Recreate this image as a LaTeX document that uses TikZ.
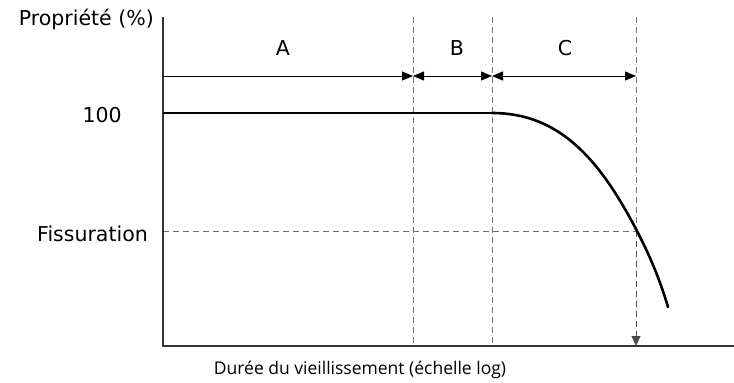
\documentclass[tikz,border=0pt]{standalone}
\usepackage{fontspec}
\setmainfont{Open Sans}
\newfontfamily\leftfont{DejaVu Sans}
\usetikzlibrary{arrows.meta}
\begin{document}
\begin{tikzpicture}[x=1pt,y=-1pt,
  axis/.style={line width=1.2pt,black!80},
  guide/.style={line width=0.9pt,black!55,dash pattern=on 6pt off 4pt},
  dim/.style={line width=0.9pt,black,-{Triangle[length=11pt,width=9pt]}},
  dimb/.style={line width=0.9pt,black,{Triangle[length=11pt,width=9pt]}-{Triangle[length=11pt,width=9pt]}},
  lbl/.style={font=\fontsize{17.5pt}{20pt}\selectfont,inner sep=0pt},
  llbl/.style={font=\leftfont\fontsize{20.5pt}{23pt}\selectfont,inner sep=0pt}]
\useasboundingbox (0,0) rectangle (734,383);
% coordinates
\coordinate (O) at (163,346);
\coordinate (Ytop) at (163,17);
\coordinate (Xend) at (734,346);
\coordinate (d1t) at (413,17); \coordinate (d1b) at (413,346);
\coordinate (d2t) at (492,17); \coordinate (d2b) at (492,346);
\coordinate (d3t) at (636,17); \coordinate (d3b) at (636,346);
\coordinate (a0) at (163,76); \coordinate (a1) at (413,76);
\coordinate (a2) at (492,76); \coordinate (a3) at (636,76);
\coordinate (h0) at (163,113); \coordinate (h1) at (492,113);
\coordinate (f0) at (163,231); \coordinate (f1) at (636,231);
% guides
\draw[guide] (d1t) -- (d1b);
\draw[guide] (d2t) -- (d2b);
\draw[guide] (d3t) -- (f1);
\draw[guide] (f0) -- (f1);
\draw[guide,-{Triangle[length=10pt,width=9pt]},black!70] (f1) -- (d3b);
% axes
\draw[axis] (Ytop) -- (O) -- (Xend);
% dimension arrows
\draw[dim] (a0) -- (a1);
\draw[dimb] (a1) -- (a2);
\draw[dimb] (a2) -- (a3);
% 100 line and curve
\draw[line width=1.2pt] (h0) -- (h1);
\draw[line width=2.6pt,line cap=round] (h1) .. controls (560,113) and (600,160) .. (637,231) .. controls (650,256) and (660,280) .. (668,307);
% labels
\node[llbl,anchor=east] (py) at (154,19) {Propriété (\%)};
\node[llbl] (lA) at (283,48) {A};
\node[llbl] (lB) at (457,48) {B};
\node[llbl] (lC) at (565,48) {C};
\node[llbl,anchor=east] (l100) at (122,115) {100};
\node[llbl,anchor=east] (lf) at (148,234) {Fissuration};
\node[lbl] (lx) at (360,370) {Durée du vieillissement (échelle log)};
\end{tikzpicture}
\end{document}
